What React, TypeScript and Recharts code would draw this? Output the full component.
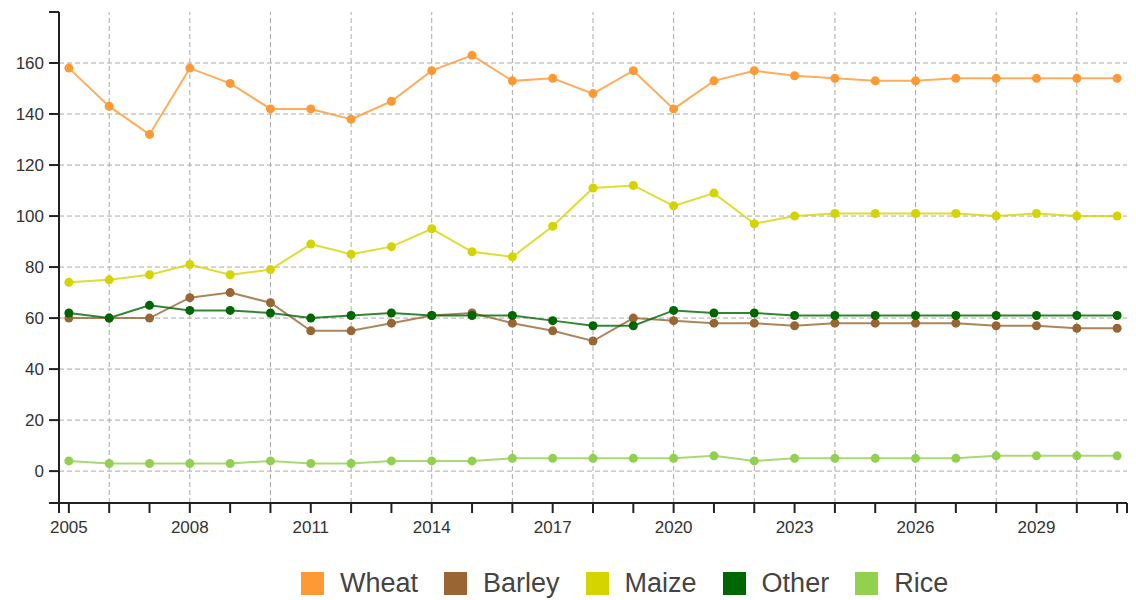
import React from 'react';
import { LineChart, Line, XAxis, YAxis, ReferenceLine, Legend } from 'recharts';

const years = [2005, 2006, 2007, 2008, 2009, 2010, 2011, 2012, 2013, 2014, 2015, 2016, 2017, 2018, 2019, 2020, 2021, 2022, 2023, 2024, 2025, 2026, 2027, 2028, 2029, 2030, 2031];
const wheat = [158, 143, 132, 158, 152, 142, 142, 138, 145, 157, 163, 153, 154, 148, 157, 142, 153, 157, 155, 154, 153, 153, 154, 154, 154, 154, 154];
const barley = [60, 60, 60, 68, 70, 66, 55, 55, 58, 61, 62, 58, 55, 51, 60, 59, 58, 58, 57, 58, 58, 58, 58, 57, 57, 56, 56];
const maize = [74, 75, 77, 81, 77, 79, 89, 85, 88, 95, 86, 84, 96, 111, 112, 104, 109, 97, 100, 101, 101, 101, 101, 100, 101, 100, 100];
const other = [62, 60, 65, 63, 63, 62, 60, 61, 62, 61, 61, 61, 59, 57, 57, 63, 62, 62, 61, 61, 61, 61, 61, 61, 61, 61, 61];
const rice = [4, 3, 3, 3, 3, 4, 3, 3, 4, 4, 4, 5, 5, 5, 5, 5, 6, 4, 5, 5, 5, 5, 5, 6, 6, 6, 6];

const seriesNames = ['Wheat', 'Barley', 'Maize', 'Other', 'Rice'];
const seriesColors = ['#ff9933', '#996633', '#d4d400', '#006600', '#92d050'];
const seriesValues = [wheat, barley, maize, other, rice];

const yTickValues = [0, 20, 40, 60, 80, 100, 120, 140, 160];
const yDomain: [number, number] = [-12.5, 180];
const xDomain: [number, number] = [2004.755, 2031.245];
const xLabelYears = [2005, 2008, 2011, 2014, 2017, 2020, 2023, 2026, 2029];
const gridYears = [2006, 2008, 2010, 2012, 2014, 2016, 2018, 2020, 2022, 2024, 2026, 2028, 2030];

const data = years.map((year, i) => {
  const row: Record<string, number> = { year };
  seriesNames.forEach((n, k) => {
    row[n] = seriesValues[k][i];
  });
  return row;
});

const FONT = '"Liberation Sans", Arial, sans-serif';

const renderLegend = () => (
  <div
    style={{
      display: 'flex',
      alignItems: 'center',
      height: 34,
      paddingLeft: 293,
      fontFamily: FONT,
      fontSize: 27,
      color: '#444',
    }}
  >
    {seriesNames.map((n, k) => (
      <div key={n} style={{ display: 'flex', alignItems: 'center', marginRight: 26 }}>
        <span style={{ display: 'inline-block', width: 23, height: 23, background: seriesColors[k], marginRight: 16 }} />
        <span>{n}</span>
      </div>
    ))}
  </div>
);

export default function App() {
  const xTicks = [xDomain[0], ...years, xDomain[1]];
  const yTicks = [yDomain[0], ...yTickValues, yDomain[1]];
  return (
    <LineChart width={1128} height={592} data={data} margin={{ top: 4, right: 9, bottom: 0, left: 0 }}>
      {yTickValues.map((v) => (
        <ReferenceLine key={'h' + v} y={v} stroke="#aaa" strokeDasharray="5 3" strokeWidth={1} />
      ))}
      {gridYears.map((v) => (
        <ReferenceLine key={'v' + v} x={v} stroke="#aaa" strokeDasharray="5 3" strokeWidth={1} />
      ))}
      <XAxis
        dataKey="year"
        type="number"
        domain={xDomain}
        ticks={xTicks}
        interval={0}
        allowDataOverflow
        height={63}
        tickSize={10}
        tickMargin={8}
        axisLine={{ stroke: '#222', strokeWidth: 2 }}
        tickLine={{ stroke: '#222', strokeWidth: 2 }}
        tick={{ fill: '#333', fontSize: 17, fontFamily: FONT }}
        tickFormatter={(v: number) => (xLabelYears.includes(v) ? String(v) : '')}
      />
      <YAxis
        type="number"
        domain={yDomain}
        ticks={yTicks}
        interval={0}
        allowDataOverflow
        width={51}
        tickSize={10}
        tickMargin={5}
        axisLine={{ stroke: '#222', strokeWidth: 2 }}
        tickLine={{ stroke: '#222', strokeWidth: 2 }}
        tick={{ fill: '#333', fontSize: 17, fontFamily: FONT }}
        tickFormatter={(v: number) => (yTickValues.includes(v) ? String(v) : '')}
      />
      <Legend verticalAlign="bottom" content={renderLegend} />
      {seriesNames.map((n, k) => (
        <Line
          key={n}
          type="linear"
          dataKey={n}
          stroke={seriesColors[k]}
          strokeOpacity={0.8}
          strokeWidth={2}
          dot={{ r: 4.5, fill: seriesColors[k], stroke: 'none' }}
          activeDot={false}
          isAnimationActive={false}
        />
      ))}
    </LineChart>
  );
}
